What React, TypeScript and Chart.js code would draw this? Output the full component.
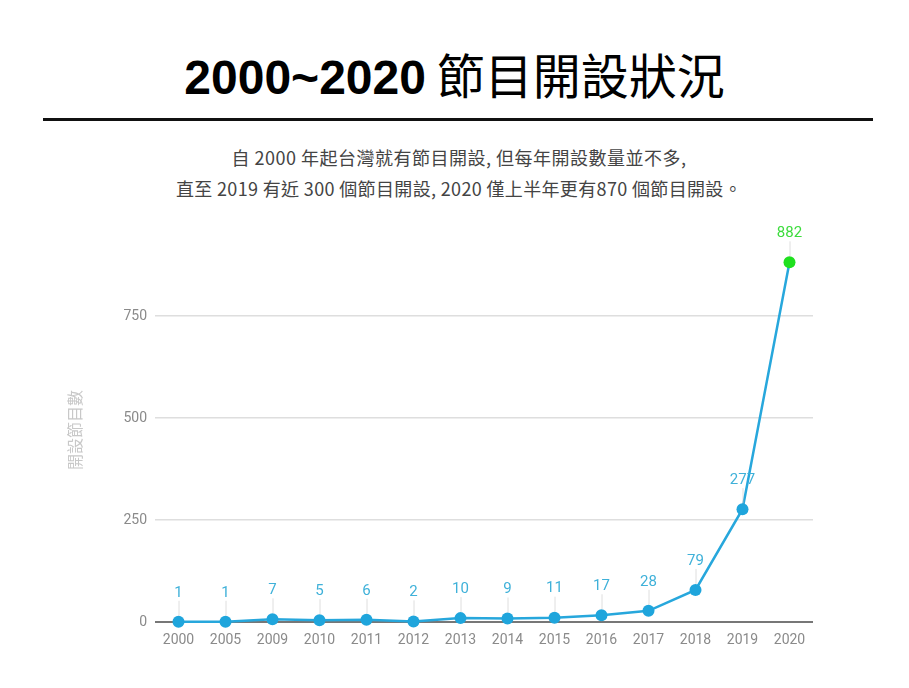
import React, { useEffect, useRef } from "react";
import { Chart, registerables } from "chart.js";

Chart.register(...registerables);

const categories = ["2000", "2005", "2009", "2010", "2011", "2012", "2013", "2014", "2015", "2016", "2017", "2018", "2019", "2020"];
const programCounts = [1, 1, 7, 5, 6, 2, 10, 9, 11, 17, 28, 79, 277, 882];
const yTickValues = [0, 250, 500, 750];
const titleNumbers = "2000~2020";
const titleText = "節目開設狀況";
const subtitleLines = [
  "自 2000 年起台灣就有節目開設, 但每年開設數量並不多,",
  "直至 2019 有近 300 個節目開設, 2020 僅上半年更有870 個節目開設。",
];
const yAxisTitle = "開設節目數";

const BLUE = "#1fa5dc";
const GREEN = "#1fe01f";
const LABEL_BLUE = "#3fb1d9";
const LABEL_GREEN = "#3ddc3d";

const labelPlugin = {
  id: "valueLabels",
  afterDatasetsDraw(chart: any) {
    const ctx = chart.ctx;
    const meta = chart.getDatasetMeta(0);
    const data = chart.data.datasets[0].data;
    ctx.save();
    meta.data.forEach((pt: any, i: number) => {
      const x = pt.x;
      const y = pt.y;
      const last = i === data.length - 1;
      ctx.strokeStyle = "rgba(200,200,200,0.6)";
      ctx.lineWidth = 1;
      ctx.beginPath();
      ctx.moveTo(x + 0.5, y - 21);
      ctx.lineTo(x + 0.5, y - 6);
      ctx.stroke();
      ctx.fillStyle = last ? LABEL_GREEN : LABEL_BLUE;
      ctx.font = "15px Roboto, 'Noto Sans CJK TC', sans-serif";
      ctx.textAlign = "center";
      ctx.textBaseline = "middle";
      ctx.fillText(String(data[i]), x, y - 29);
    });
    ctx.restore();
  },
  afterDraw(chart: any) {
    const ctx = chart.ctx;
    ctx.save();
    ctx.translate(75, 430 - 215);
    ctx.rotate(-Math.PI / 2);
    ctx.fillStyle = "#c8c8c8";
    ctx.font = "16px 'Noto Sans CJK TC', sans-serif";
    ctx.textAlign = "center";
    ctx.textBaseline = "middle";
    ctx.fillText(yAxisTitle, 0, 0);
    ctx.restore();
  },
};

export default function App() {
  const canvasRef = useRef<HTMLCanvasElement | null>(null);

  useEffect(() => {
    if (!canvasRef.current) return;
    const chart = new Chart(canvasRef.current, {
      type: "line",
      data: {
        labels: categories,
        datasets: [
          {
            data: programCounts,
            borderColor: "#27a7dc",
            borderWidth: 2.5,
            pointRadius: 6,
            pointHoverRadius: 6,
            pointBorderWidth: 0,
            pointBackgroundColor: programCounts.map((_, i) => (i === programCounts.length - 1 ? GREEN : BLUE)),
            tension: 0,
            fill: false,
            clip: false as any,
          },
        ],
      },
      options: {
        animation: false,
        responsive: false,
        devicePixelRatio: 1,
        layout: { padding: { top: 40, right: 96, bottom: 29, left: 0 } },
        plugins: {
          legend: { display: false },
          tooltip: { enabled: false },
          title: { display: false },
        },
        scales: {
          x: {
            offset: true,
            grid: { display: false, drawTicks: false },
            border: { display: false },
            ticks: {
              color: "#8a8a8a",
              font: { size: 14, family: "Roboto, sans-serif" },
              padding: 10,
              maxRotation: 0,
              autoSkip: false,
            },
          },
          y: {
            min: 0,
            max: 900,
            afterBuildTicks(scale: any) {
              scale.ticks = yTickValues.map((v) => ({ value: v }));
            },
            afterFit(scale: any) {
              scale.width = 155;
            },
            grid: {
              drawTicks: false,
              color: (c: any) => (c.tick && c.tick.value === 0 ? "#777777" : "#dedede"),
              lineWidth: (c: any) => (c.tick && c.tick.value === 0 ? 2 : 1.5),
            },
            border: { display: false },
            ticks: {
              color: "#8a8a8a",
              font: { size: 14, family: "Roboto, sans-serif" },
              padding: 8,
            },
          },
        },
      },
      plugins: [labelPlugin],
    });
    return () => chart.destroy();
  }, []);

  return (
    <div style={{ position: "fixed", left: 0, top: 0, width: 909, height: 688, background: "#fff", overflow: "hidden" }}>
      <div
        style={{
          position: "absolute",
          top: 48,
          left: 0,
          width: 909,
          textAlign: "center",
          fontSize: 48,
          lineHeight: "50px",
          color: "#000",
          fontFamily: "'Liberation Sans', 'Noto Sans CJK TC', sans-serif",
          whiteSpace: "nowrap",
        }}
      >
        <span style={{ fontWeight: 700 }}>{titleNumbers}</span>
        <span style={{ fontWeight: 400, fontFamily: "'Noto Sans CJK TC', sans-serif" }}> {titleText}</span>
      </div>
      <div style={{ position: "absolute", top: 118, left: 43, width: 830, height: 3, background: "#111" }} />
      {subtitleLines.map((line, i) => (
        <div
          key={i}
          style={{
            position: "absolute",
            top: 145 + i * 31,
            left: 0,
            width: 918,
            textAlign: "center",
            fontSize: 18,
            letterSpacing: i === 0 ? "0.5px" : "0.35px",
            lineHeight: "24px",
            color: "#444",
            fontFamily: "'Noto Sans CJK TC', sans-serif",
            whiteSpace: "nowrap",
          }}
        >
          {line}
        </div>
      ))}
      <canvas ref={canvasRef} width={909} height={473} style={{ position: "absolute", left: 0, top: 215, width: 909, height: 473 }} />
    </div>
  );
}
